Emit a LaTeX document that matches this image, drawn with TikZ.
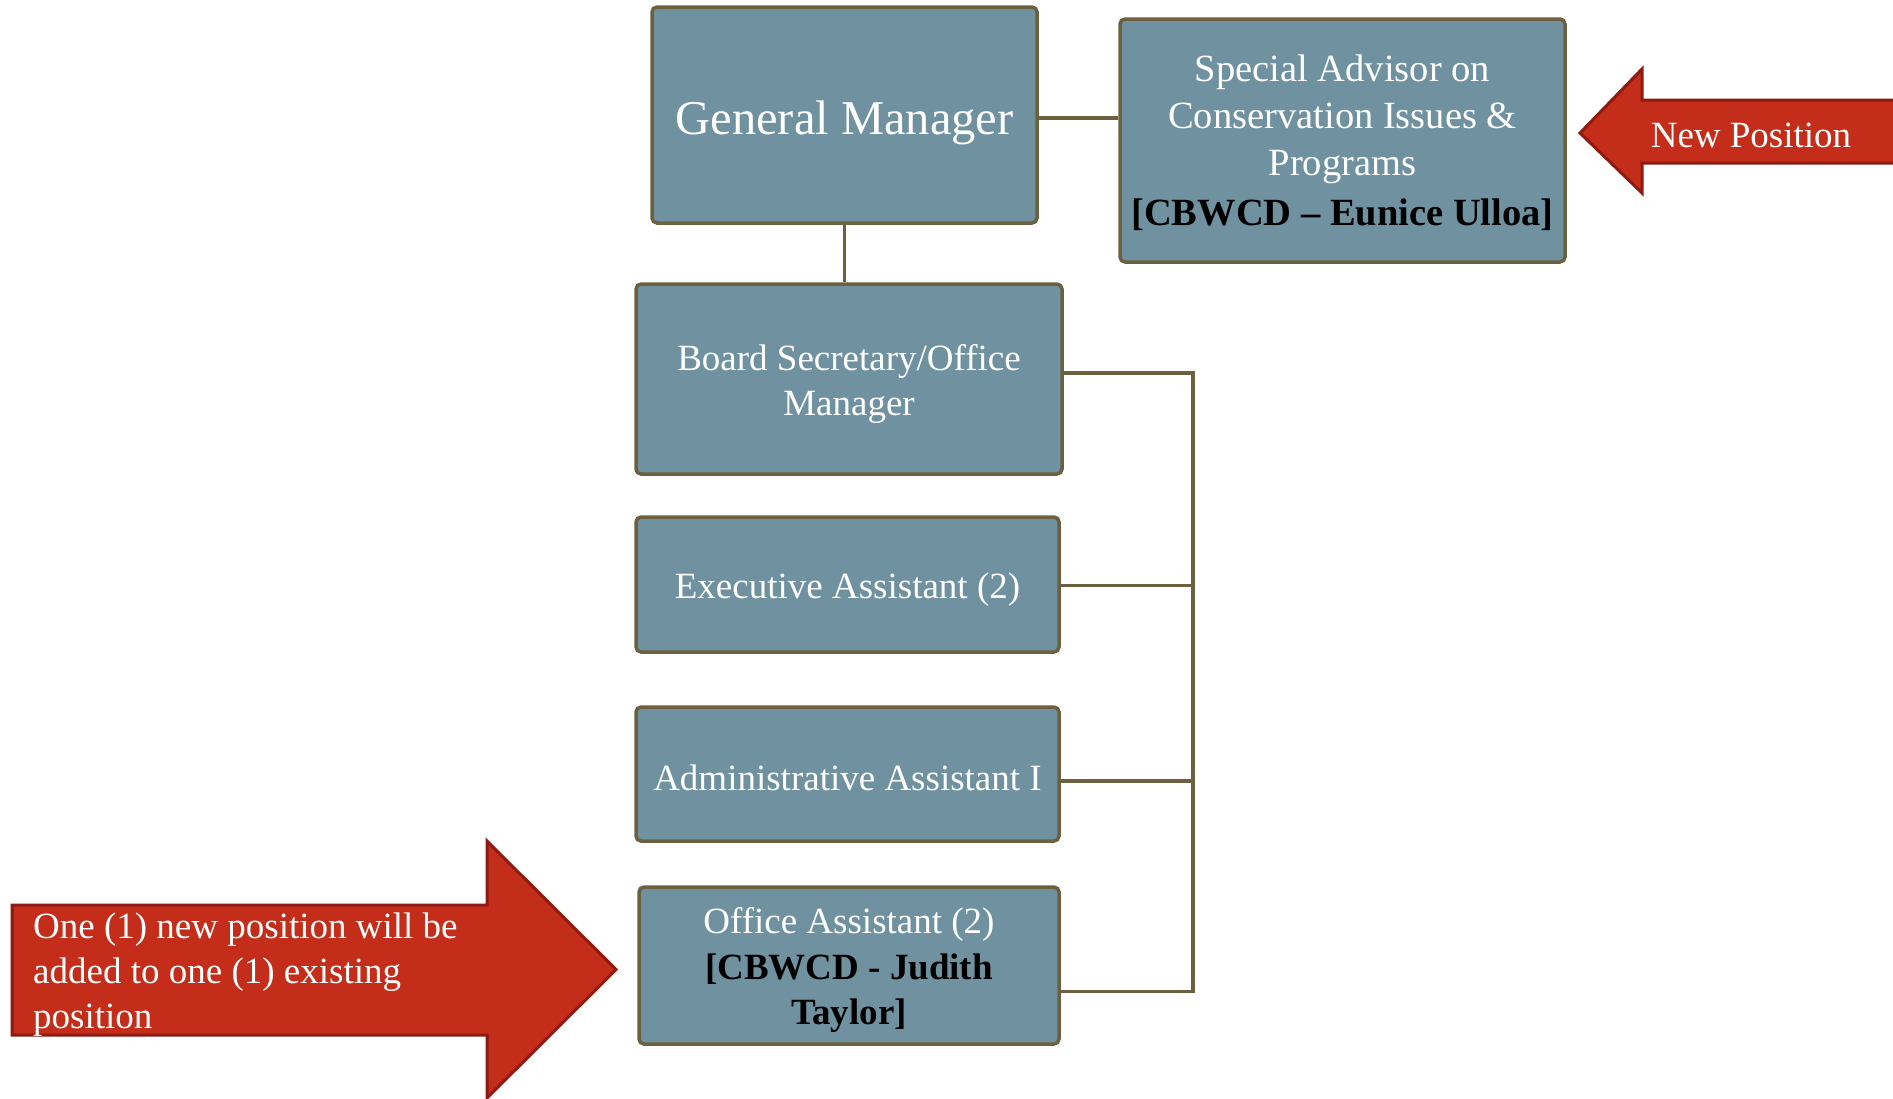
\documentclass[tikz,border=0pt]{standalone}
\usepackage{fontspec}
\setmainfont{Liberation Serif}
\usetikzlibrary{calc}
\definecolor{boxfill}{HTML}{6F91A0}
\definecolor{boxline}{HTML}{6B6140}
\definecolor{redfill}{HTML}{C32D19}
\definecolor{redline}{HTML}{8E1A10}
\newcommand\tup[1]{\rule{0pt}{#1}}
\begin{document}
\begin{tikzpicture}[x=1pt,y=-1pt,
  orgbox/.style={draw=boxline, line width=3.5pt, fill=boxfill, rounded corners=5pt,
    text=white, align=center, inner sep=0pt, font=\fontsize{37}{45.5}\selectfont},
  link/.style={draw=boxline, line width=3.5pt},
  redarrow/.style={draw=redline, fill=redfill, line width=3pt, line join=miter},
  redtext/.style={text=white, inner sep=0pt, font=\fontsize{37}{45}\selectfont}]
\useasboundingbox (0,0) rectangle (1893,1098);
\fill[white] (0,0) rectangle (1893,1098);

% boxes
\node[orgbox, minimum width=385pt, minimum height=216pt, font=\fontsize{48.5}{56}\selectfont]
  (gm) at (844.5,115) {\tup{50pt}General Manager};
\node[orgbox, minimum width=445pt, minimum height=243pt, font=\fontsize{38.5}{47}\selectfont]
  (sa) at (1342.5,140.5) {\tup{32pt}Special Advisor on\\ Conservation Issues \&\\ Programs\\[3pt]
  {\bfseries\color{black}[CBWCD -- Eunice Ulloa]}};
\node[orgbox, minimum width=426pt, minimum height=190pt]
  (board) at (849,379) {\tup{36pt}Board Secretary/Office\\ Manager};
\node[orgbox, minimum width=423pt, minimum height=135pt]
  (exec) at (847.5,584.5) {\tup{35pt}Executive Assistant (2)};
\node[orgbox, minimum width=423pt, minimum height=134pt]
  (admin) at (847.5,774) {\tup{34pt}Administrative Assistant I};
\node[orgbox, minimum width=420pt, minimum height=157pt]
  (office) at (849,965.5) {\tup{35pt}Office Assistant (2)\\ \textcolor{black}{\bfseries [CBWCD - Judith}\\
  \textcolor{black}{\bfseries Taylor]}};

% connectors
\coordinate (bus) at (1193,373);
\draw[link] ($(gm.east)+(0,3)$) -- ($(gm.east -| sa.west)+(0,3)$);
\draw[link] (gm.south) -- (gm.south |- board.north);
\draw[link] ($(board.east)+(0,-6)$) -- (bus) -- ($(office.east -| bus)+(0,26)$) -- ($(office.east)+(0,26)$);
\draw[link] ($(exec.east)+(0,1)$) -- ($(exec.east -| bus)+(0,1)$);
\draw[link] ($(admin.east)+(0,7)$) -- ($(admin.east -| bus)+(0,7)$);

% red arrows
\draw[redarrow] (1900,100) -- (1642,100) -- (1642,69) -- (1580,133) -- (1642,193) -- (1642,163) -- (1900,163) -- cycle;
\node[redtext] (newpos) at (1751,135) {New Position};
\draw[redarrow] (12,905) -- (487,905) -- (487,841) -- (616,969.5) -- (487,1098) -- (487,1035) -- (12,1035) -- cycle;
\node[redtext, anchor=west, align=left] (note) at (33,975) {One (1) new position will be\\ added to one (1) existing\\ position};
\end{tikzpicture}
\end{document}
